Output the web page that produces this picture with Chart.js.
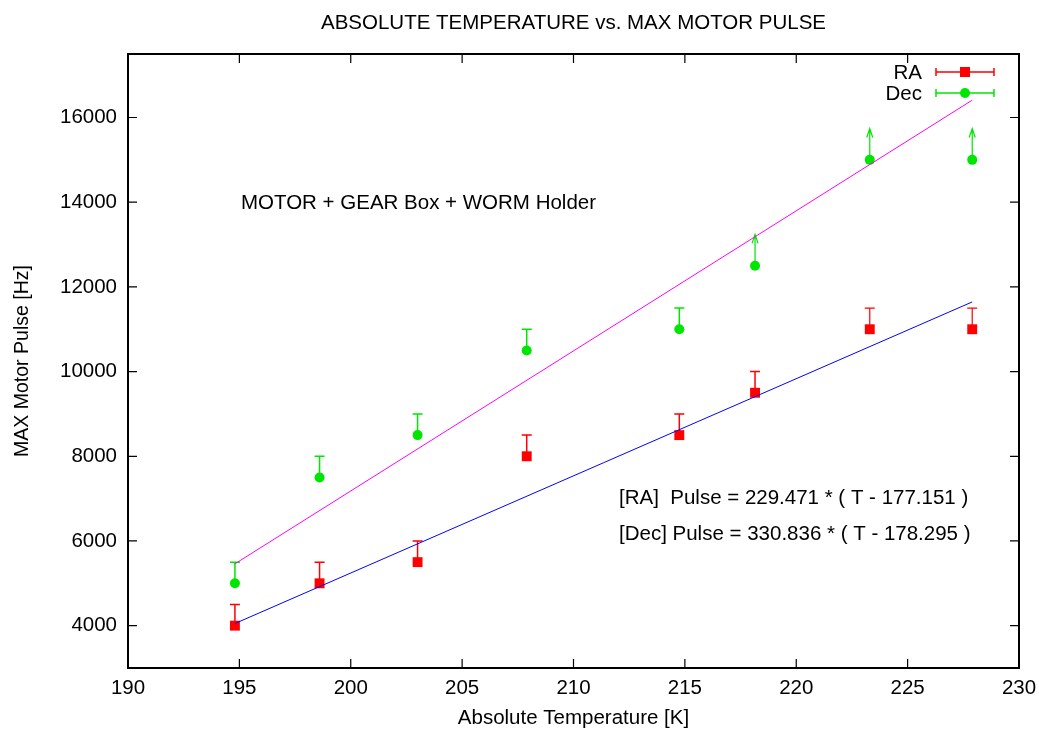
<!DOCTYPE html>
<html>
<head>
<meta charset="utf-8">
<script src="https://cdn.jsdelivr.net/npm/chart.js@4"></script>
<style>
  html, body { margin: 0; padding: 0; background: #fff; }
  #wrap { width: 1039px; height: 729px; }
</style>
</head>
<body>
<div id="wrap"><canvas id="chart"></canvas></div>
<script>
// Temperatures [K] of each measurement
const temps = [194.8, 198.6, 203.0, 207.9, 214.75, 218.15, 223.3, 227.9];
// Max motor pulse [Hz]
const raPulse = [4000, 5000, 5500, 8000, 8500, 9500, 11000, 11000];
const decPulse = [5000, 7500, 8500, 10500, 11000, 12500, 15000, 15000];
// upper error (Hz); null = no bar
const raErrUp = [500, 500, 500, 500, 500, 500, 500, 500];
const decErrUp = [500, 500, 500, 500, 500, null, null, null];
// lower limits shown as arrows (Hz)
const decArrowUp = [null, null, null, null, null, 740, 740, 740];
// fitted lines, end points
const raFitX = [194.8, 227.9];
const raFitY = [4050, 11645];
const decFitX = [194.8, 227.9];
const decFitY = [5460, 16410];

const yTicks = [4000, 6000, 8000, 10000, 12000, 14000, 16000];

const TITLE = 'ABSOLUTE TEMPERATURE vs. MAX MOTOR PULSE';
const FONT = 'Liberation Sans, Arial, Helvetica, sans-serif';
const FS = 20.5;
const RED = '#ff0000';
const GREEN = '#00e600';

const toPts = (xs, ys) => xs.map((x, i) => ({ x: x, y: ys[i] }));

// error bars, arrows, box, inward ticks, legend, title and notes
const decorPlugin = {
    id: 'decor',
    beforeDatasetsDraw(chart) {
        const ctx = chart.ctx;
        const xs = chart.scales.x, ys = chart.scales.y;
        ctx.save();
        ctx.lineWidth = 1.5;
        const bar = (i, val, err, color) => {
            if (err == null) return;
            const px = xs.getPixelForValue(temps[i]);
            const p0 = ys.getPixelForValue(val);
            const p1 = ys.getPixelForValue(val + err);
            ctx.strokeStyle = color;
            ctx.beginPath();
            ctx.moveTo(px, p0); ctx.lineTo(px, p1);
            ctx.moveTo(px - 5, p1); ctx.lineTo(px + 5, p1);
            ctx.stroke();
        };
        temps.forEach((t, i) => {
            bar(i, raPulse[i], raErrUp[i], RED);
            bar(i, decPulse[i], decErrUp[i], GREEN);
            if (decArrowUp[i] != null) {
                const px = xs.getPixelForValue(t);
                const p0 = ys.getPixelForValue(decPulse[i]);
                const p1 = ys.getPixelForValue(decPulse[i] + decArrowUp[i]);
                ctx.strokeStyle = GREEN;
                ctx.lineWidth = 1.2;
                ctx.beginPath();
                ctx.moveTo(px, p0); ctx.lineTo(px, p1);
                ctx.moveTo(px - 3, p1 + 9); ctx.lineTo(px, p1); ctx.lineTo(px + 3, p1 + 9);
                ctx.stroke();
            }
        });
        ctx.restore();
    },
    afterDraw(chart) {
        const ctx = chart.ctx;
        const a = chart.chartArea;
        const xs = chart.scales.x, ys = chart.scales.y;
        ctx.save();
        // border
        ctx.strokeStyle = '#000';
        ctx.lineWidth = 2;
        ctx.strokeRect(a.left, a.top, a.right - a.left, a.bottom - a.top);
        // inward ticks on all sides
        ctx.lineWidth = 1.2;
        ctx.beginPath();
        xs.ticks.forEach(t => {
            const px = xs.getPixelForValue(t.value);
            if (px <= a.left + 1 || px >= a.right - 1) return;
            ctx.moveTo(px, a.bottom); ctx.lineTo(px, a.bottom - 9);
            ctx.moveTo(px, a.top); ctx.lineTo(px, a.top + 9);
        });
        ys.ticks.forEach(t => {
            const py = ys.getPixelForValue(t.value);
            ctx.moveTo(a.left, py); ctx.lineTo(a.left + 9, py);
            ctx.moveTo(a.right, py); ctx.lineTo(a.right - 9, py);
        });
        ctx.stroke();

        ctx.font = FS + 'px ' + FONT;
        ctx.textBaseline = 'middle';

        // title, centred over the plot
        ctx.fillStyle = '#000';
        ctx.textAlign = 'center';
        ctx.fillText(TITLE, (a.left + a.right) / 2, 23);

        // legend
        ctx.textAlign = 'right';
        const legend = [
            { label: 'RA', color: RED, y: 72, style: 'rect' },
            { label: 'Dec', color: GREEN, y: 93, style: 'circle' }
        ];
        legend.forEach(l => {
            ctx.fillStyle = '#000';
            ctx.fillText(l.label, 922, l.y + 1);
            ctx.strokeStyle = l.color;
            ctx.lineWidth = 1.5;
            ctx.beginPath();
            ctx.moveTo(936, l.y); ctx.lineTo(994, l.y);
            ctx.moveTo(936, l.y - 4); ctx.lineTo(936, l.y + 4);
            ctx.moveTo(994, l.y - 4); ctx.lineTo(994, l.y + 4);
            ctx.stroke();
            ctx.fillStyle = l.color;
            if (l.style === 'rect') {
                ctx.fillRect(960, l.y - 5, 10, 10);
            } else {
                ctx.beginPath();
                ctx.arc(965, l.y, 5, 0, Math.PI * 2);
                ctx.fill();
            }
        });

        // notes
        ctx.fillStyle = '#000';
        ctx.textAlign = 'left';
        ctx.fillText('MOTOR + GEAR Box + WORM Holder', 241, 203);
        ctx.fillText('[RA]  Pulse = 229.471 * ( T - 177.151 )', 619, 498);
        ctx.fillText('[Dec] Pulse = 330.836 * ( T - 178.295 )', 619, 534);
        ctx.restore();
    }
};

new Chart(document.getElementById('chart'), {
    type: 'scatter',
    data: {
        datasets: [
            {
                label: 'RA fit',
                type: 'line',
                data: toPts(raFitX, raFitY),
                borderColor: '#0000ff',
                borderWidth: 1,
                pointRadius: 0,
                fill: false
            },
            {
                label: 'Dec fit',
                type: 'line',
                data: toPts(decFitX, decFitY),
                borderColor: '#ff00ff',
                borderWidth: 1,
                pointRadius: 0,
                fill: false
            },
            {
                label: 'RA',
                data: toPts(temps, raPulse),
                pointStyle: 'rect',
                pointRadius: 7,
                backgroundColor: RED,
                borderWidth: 0
            },
            {
                label: 'Dec',
                data: toPts(temps, decPulse),
                pointStyle: 'circle',
                pointRadius: 5,
                backgroundColor: GREEN,
                borderWidth: 0
            }
        ]
    },
    options: {
        responsive: true,
        maintainAspectRatio: false,
        animation: false,
        layout: { padding: { left: 0, right: 20, top: 54, bottom: 0 } },
        plugins: {
            legend: { display: false },
            tooltip: { enabled: false },
            title: { display: false }
        },
        scales: {
            x: {
                type: 'linear',
                min: 190,
                max: 230,
                ticks: {
                    stepSize: 5,
                    color: '#000',
                    padding: 10,
                    font: { family: FONT, size: FS, lineHeight: 1 }
                },
                grid: { display: false, drawTicks: false },
                border: { display: false },
                title: {
                    display: true,
                    text: 'Absolute Temperature [K]',
                    color: '#000',
                    font: { family: FONT, size: FS, lineHeight: 1 },
                    padding: { top: 0, bottom: 0.75 }
                },
                afterFit(scale) {
                    scale.height = 61;
                    scale.paddingLeft = 0;
                    scale.paddingRight = 0;
                }
            },
            y: {
                min: 3000,
                max: 17500,
                afterBuildTicks(scale) {
                    scale.ticks = yTicks.map(v => ({ value: v }));
                },
                ticks: {
                    color: '#000',
                    padding: 11,
                    font: { family: FONT, size: FS },
                    callback: v => String(v)
                },
                grid: { display: false, drawTicks: false },
                border: { display: false },
                title: {
                    display: true,
                    text: 'MAX Motor Pulse [Hz]',
                    color: '#000',
                    font: { family: FONT, size: 19.5, lineHeight: 1 },
                    padding: { top: 12.5, bottom: 0 }
                },
                afterFit(scale) {
                    scale.width = 128;
                    scale.paddingTop = 0;
                    scale.paddingBottom = 0;
                }
            }
        }
    },
    plugins: [decorPlugin]
});
</script>
</body>
</html>
